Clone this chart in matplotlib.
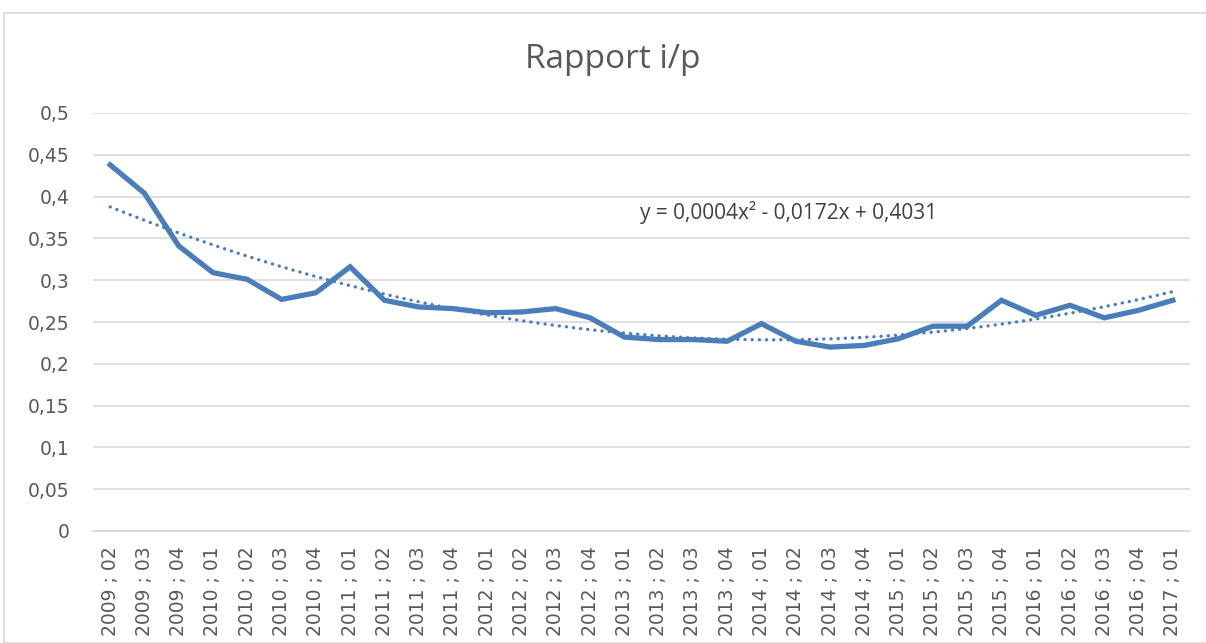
import numpy as np
import matplotlib
matplotlib.use("Agg")
import matplotlib.pyplot as plt
from matplotlib.patches import Rectangle

# ---- data ----
categories = [
    "2009 ; 02", "2009 ; 03", "2009 ; 04",
    "2010 ; 01", "2010 ; 02", "2010 ; 03", "2010 ; 04",
    "2011 ; 01", "2011 ; 02", "2011 ; 03", "2011 ; 04",
    "2012 ; 01", "2012 ; 02", "2012 ; 03", "2012 ; 04",
    "2013 ; 01", "2013 ; 02", "2013 ; 03", "2013 ; 04",
    "2014 ; 01", "2014 ; 02", "2014 ; 03", "2014 ; 04",
    "2015 ; 01", "2015 ; 02", "2015 ; 03", "2015 ; 04",
    "2016 ; 01", "2016 ; 02", "2016 ; 03", "2016 ; 04",
    "2017 ; 01",
]
ratio = [
    0.438, 0.404, 0.341,
    0.309, 0.301, 0.277, 0.285,
    0.316, 0.276, 0.268, 0.266,
    0.261, 0.262, 0.266, 0.255,
    0.232, 0.229, 0.229, 0.227,
    0.248, 0.227, 0.220, 0.222,
    0.230, 0.245, 0.245, 0.276,
    0.258, 0.270, 0.255, 0.264,
    0.276,
]
y_ticks = [0, 0.05, 0.1, 0.15, 0.2, 0.25, 0.3, 0.35, 0.4, 0.45, 0.5]
title = "Rapport i/p"
equation = "y = 0,0004x² - 0,0172x + 0,4031"

plt.rcParams['font.family'] = ['Open Sans', 'DejaVu Sans']

fig = plt.figure(figsize=(12.06, 6.43), dpi=100)
fig.patch.set_facecolor("white")
fig.add_artist(Rectangle((4 / 1206, 0), 1.0, 1 - 13 / 643, transform=fig.transFigure,
                         facecolor="none", edgecolor="#D9D9D9", linewidth=1.2))

ax = fig.add_axes([93 / 1206, 1 - 531 / 643, (1190 - 93) / 1206, (531 - 113) / 643])

x = np.arange(1, len(ratio) + 1)
line_color = "#4A7EBB"
ax.plot(x, ratio, color=line_color, linewidth=3.8, solid_joinstyle="miter", zorder=3)

# polynomial (order 2) trend line, as fitted by the spreadsheet
coef = np.polyfit(x, ratio, 2)
xs = np.linspace(1, len(ratio), 200)
ax.plot(xs, np.polyval(coef, xs), color=line_color, linewidth=2.4,
        linestyle=(0, (0.05, 2.1)), dash_capstyle="round", zorder=4)

ax.set_xlim(0.5, len(ratio) + 0.5)
ax.set_ylim(0, 0.5)
ax.set_yticks(y_ticks)
ax.set_yticklabels([("%g" % v).replace(".", ",") for v in y_ticks])
ax.set_xticks(x)
ax.set_xticklabels(categories, rotation=90)

ax.tick_params(axis="both", length=0, labelsize=13.5, labelcolor="#595959")
ax.tick_params(axis="y", pad=17)
ax.tick_params(axis="x", pad=11)
for lbl in ax.get_xticklabels() + ax.get_yticklabels():
    lbl.set_family(["DejaVu Sans"])
ax.grid(axis="y", color="#D9D9D9", linewidth=1.2)
ax.set_axisbelow(True)
for s in ["top", "right", "left"]:
    ax.spines[s].set_visible(False)
ax.spines["bottom"].set_color("#D9D9D9")
ax.spines["bottom"].set_linewidth(1.2)

fig.text(613 / 1206, 1 - 60 / 643, title, ha="center", va="center",
         fontsize=24, color="#595959")
fig.text(640 / 1206, 1 - 213 / 643, equation, ha="left", va="center",
         fontsize=15, color="#404040")

fig.savefig("out.png", dpi=100, facecolor="white")
